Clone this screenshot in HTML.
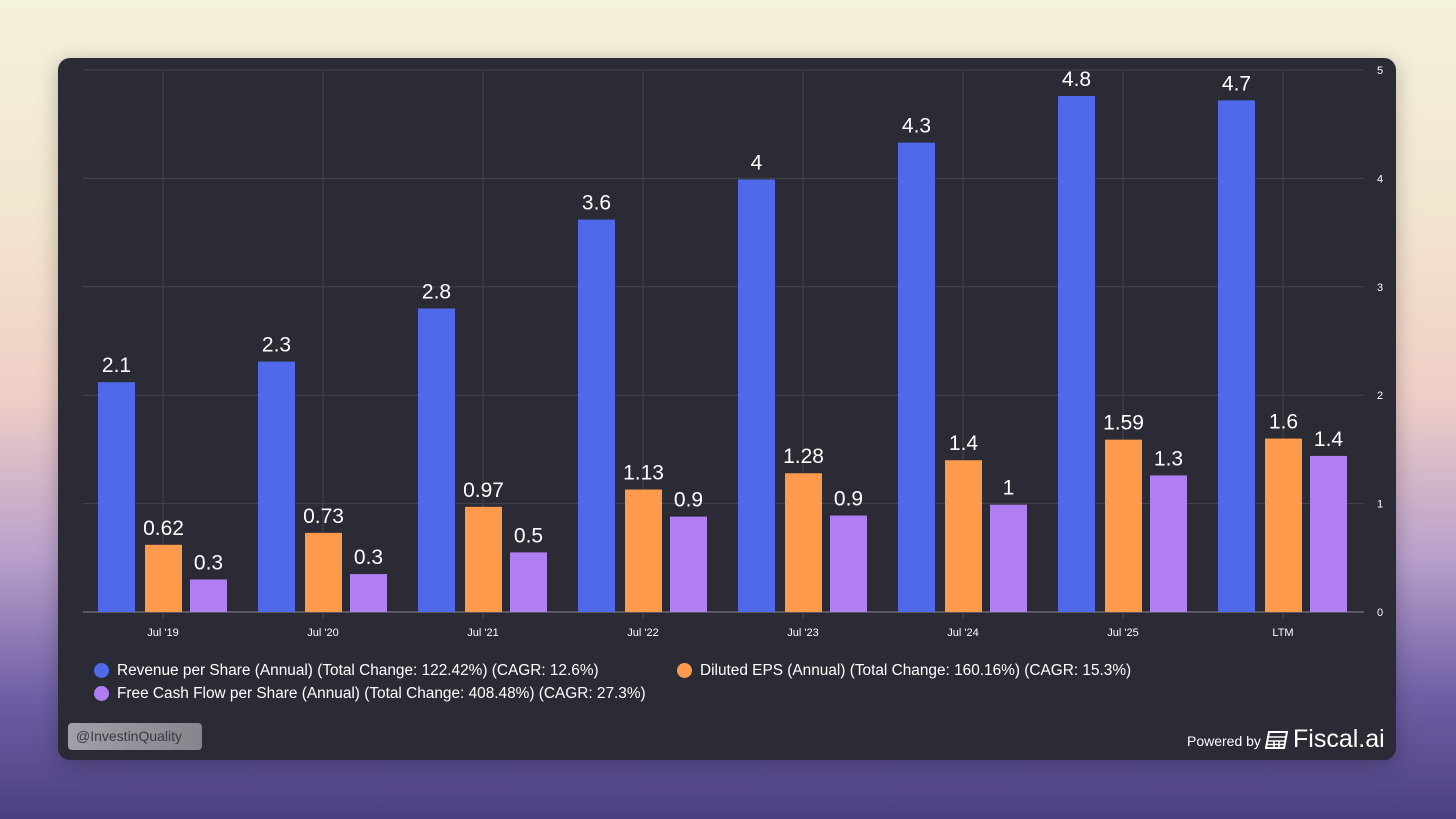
<!DOCTYPE html>
<html><head><meta charset="utf-8"><style>
body{margin:0;width:1456px;height:819px;overflow:hidden;font-family:"Liberation Sans",Arial,sans-serif;
background:linear-gradient(180deg,#f4f1dc 0%,#f2e6cf 25%,#f0cfc6 48%,#b9a0cc 68%,#6f5fa5 85%,#4b3f80 100%);}
#card{position:absolute;left:58px;top:58px;width:1338px;height:702px;background:#2b2b35;border-radius:12px;box-shadow:0 4px 20px rgba(0,0,0,.25)}
.leg{position:absolute;color:#fff;font-size:15.4px;white-space:nowrap}
.dot{position:absolute;width:15px;height:15px;border-radius:50%}
</style></head><body>
<div id="card"></div>
<svg id="chart" width="1456" height="819" style="position:absolute;left:0;top:0"></svg>
<div class="dot" style="left:94px;top:663px;background:#4f69ea"></div>
<div class="leg" style="left:117px;top:662px">Revenue per Share (Annual) (Total Change: 122.42%) (CAGR: 12.6%)</div>
<div class="dot" style="left:677px;top:663px;background:#fd9a4b"></div>
<div class="leg" style="left:700px;top:662px">Diluted EPS (Annual) (Total Change: 160.16%) (CAGR: 15.3%)</div>
<div class="dot" style="left:94px;top:686px;background:#b07ef0"></div>
<div class="leg" style="left:117px;top:685px">Free Cash Flow per Share (Annual) (Total Change: 408.48%) (CAGR: 27.3%)</div>
<div style="position:absolute;left:68px;top:723px;width:134px;height:27px;border-radius:4px;background:linear-gradient(90deg,#a0a0a6,#85858c);color:#3a3a44;font-size:14px;line-height:27px;padding-left:8px;box-sizing:border-box">@InvestinQuality</div>
<div style="position:absolute;left:1187px;top:733px;color:#fff;font-size:14px">Powered by</div>
<svg style="position:absolute;left:1265px;top:730px" width="24" height="20"><path d="M4 2h18l-3 16H1z" fill="none" stroke="#fff" stroke-width="2"/><path d="M3 7h18M2.5 11h17M2 14.5h17M9 11v6M14 11v6" stroke="#fff" stroke-width="1.6"/></svg>
<div style="position:absolute;left:1293px;top:725px;color:#fff;font-size:25px">Fiscal.ai</div>
<script>
const categories=["Jul '19","Jul '20","Jul '21","Jul '22","Jul '23","Jul '24","Jul '25","LTM"];
const revenue=[2.12,2.31,2.8,3.62,3.99,4.33,4.76,4.72];
const revenueLabels=["2.1","2.3","2.8","3.6","4","4.3","4.8","4.7"];
const eps=[0.62,0.73,0.97,1.13,1.28,1.4,1.59,1.6];
const epsLabels=["0.62","0.73","0.97","1.13","1.28","1.4","1.59","1.6"];
const fcf=[0.3,0.35,0.55,0.88,0.89,0.99,1.26,1.44];
const fcfLabels=["0.3","0.3","0.5","0.9","0.9","1","1.3","1.4"];
const yTicks=[0,1,2,3,4,5];
const svg=document.getElementById('chart');const NS='http://www.w3.org/2000/svg';
const y0=612,yTop=70,x0=83,x1=1364,gw=160,yMax=5;
const y=v=>y0-(v/yMax)*(y0-yTop);
const xc=i=>x0+gw*(i+0.5);
function mk(t,a,txt){const e=document.createElementNS(NS,t);for(const k in a)e.setAttribute(k,a[k]);if(txt!==undefined)e.textContent=txt;svg.appendChild(e);return e;}
yTicks.forEach(t=>{
 const l=mk('line',{x1:x0,x2:x1,y1:y(t),y2:y(t),stroke:t===0?'#888':'#45454f','stroke-width':1});
 
 const tx=mk('text',{x:1380,y:y(t)+4,fill:'#fff','font-size':11,'text-anchor':'middle'},String(t));
 
});
categories.forEach((c,i)=>{
 const l=mk('line',{x1:xc(i),x2:xc(i),y1:yTop,y2:y0+6,stroke:'#45454f','stroke-width':1});
 
 const tx=mk('text',{x:xc(i),y:636,fill:'#fff','font-size':11,'text-anchor':'middle'},c);
 
});
const series=[[revenue,revenueLabels,'#4f69ea',-46.5,'bar-revenue'],[eps,epsLabels,'#fd9a4b',0.5,'bar-eps'],[fcf,fcfLabels,'#b07ef0',45.5,'bar-fcf']];
series.forEach(([vals,labs,col,off,nm])=>{
 vals.forEach((v,i)=>{
  const cx=xc(i)+off;
  const r=mk('rect',{x:cx-18.5,y:y(v),width:37,height:y0-y(v),fill:col});
  
  const t=mk('text',{x:cx,y:y(v)-10,fill:'#fff','font-size':21,'text-anchor':'middle'},labs[i]);
  
 });
});
</script>
</body></html>
